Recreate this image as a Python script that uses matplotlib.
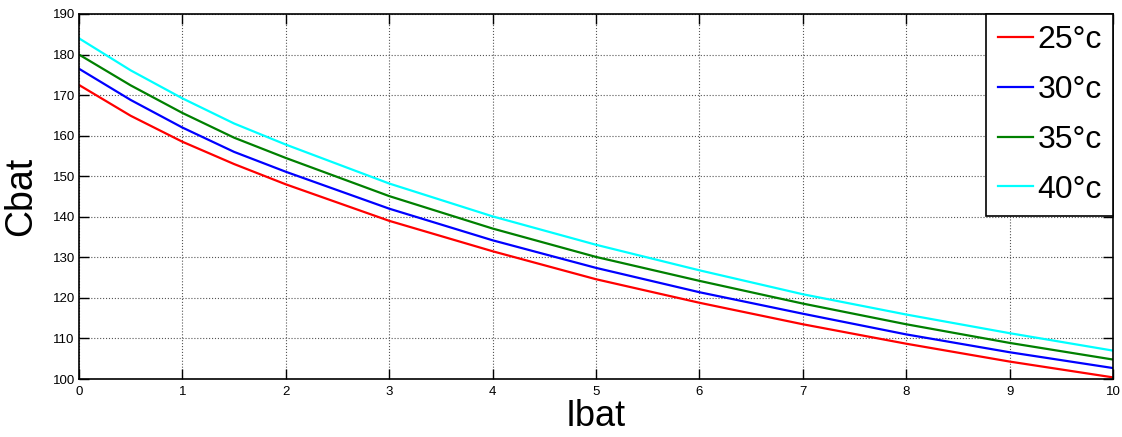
import numpy as np
import matplotlib.pyplot as plt

plt.rcParams['font.family'] = ['Liberation Sans', 'DejaVu Sans']

# Ibat values where the curves were read
ibat = [0, 0.5, 1, 1.5, 2, 3, 4, 5, 6, 7, 8, 9, 10]

# Cbat for each temperature
c25 = [172.5, 164.9, 158.5, 153.0, 148.0, 139.0, 131.5, 124.6, 118.8, 113.5, 108.7, 104.3, 100.4]
c30 = [176.5, 168.8, 162.0, 156.0, 151.1, 142.0, 134.2, 127.4, 121.4, 116.1, 111.0, 106.6, 102.7]
c35 = [180.0, 172.4, 165.6, 159.5, 154.5, 145.1, 137.1, 130.1, 124.2, 118.6, 113.5, 108.9, 104.8]
c40 = [184.0, 176.1, 169.2, 163.0, 157.8, 148.2, 140.1, 133.1, 126.8, 120.9, 115.9, 111.3, 107.0]

labels = ['25°c', '30°c', '35°c', '40°c']
colors = ['#ff0000', '#0000ff', '#008000', '#00ffff']

fig = plt.figure(figsize=(11.22, 4.37), dpi=100)
ax = fig.add_axes([0.0704, 0.1327, 0.9216, 0.8353])

for y, lab, col in zip([c25, c30, c35, c40], labels, colors):
    ax.plot(ibat, y, color=col, lw=1.6, label=lab)

ax.set_xlim(0, 10)
ax.set_ylim(100, 190)
ax.set_xticks(np.arange(0, 11, 1))
ax.set_yticks(np.arange(100, 191, 10))

ax.grid(True, color='#555555', linestyle=':', linewidth=0.8)
ax.tick_params(direction='in', length=7, width=1, top=True, right=True, labelsize=9.5)
ax.tick_params(axis='x', pad=5)
ax.tick_params(axis='y', pad=3)
for s in ax.spines.values():
    s.set_linewidth(1.2)

ax.set_xlabel('Ibat', fontsize=26, labelpad=1)
ax.set_ylabel('Cbat', fontsize=27, labelpad=10)

leg = ax.legend(loc='upper right', fontsize=23, fancybox=False, framealpha=1,
                edgecolor='black', borderaxespad=0, handlelength=1.1,
                handletextpad=0.15, labelspacing=0.62, borderpad=0.35)
leg.get_frame().set_linewidth(1.2)

fig.savefig('out.png', dpi=100)
